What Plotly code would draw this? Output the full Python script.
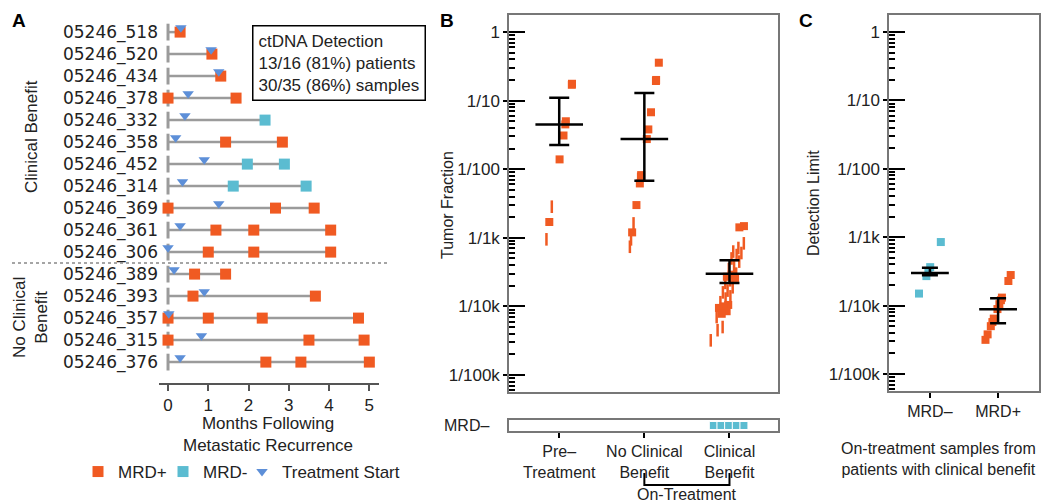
import plotly.graph_objects as go
import numpy as np


# ==========================
# DATA
# ==========================

patients = [
    "05246_518", "05246_520", "05246_434", "05246_378", "05246_332", "05246_358",
    "05246_452", "05246_314", "05246_369", "05246_361", "05246_306",
    "05246_389", "05246_393", "05246_357", "05246_315", "05246_376",
]

# months following metastatic recurrence
mrd_pos_times = [
    [0.30], [1.09], [1.31], [0.0, 1.69], [], [1.43, 2.84],
    [], [], [0.0, 2.67, 3.63], [1.19, 2.13, 4.04], [1.00, 2.13, 4.04],
    [0.66, 1.43], [0.62, 3.66], [0.0, 1.00, 2.34, 4.73], [0.0, 3.50, 4.87], [2.43, 3.30, 5.00],
]
mrd_neg_times = [
    [], [], [], [], [2.41], [],
    [1.97, 2.89], [1.62, 3.43], [], [], [],
    [], [], [], [], [],
]
treatment_start = [0.32, 1.07, 1.26, 0.50, 0.42, 0.19, 0.90, 0.36, 1.26, 0.30, 0.0,
                   0.15, 0.90, 0.02, 0.83, 0.30]
n_clinical_benefit = 11

# panel B : tumor fraction
b_groups = ["Pre–<br>Treatment", "No Clinical<br>Benefit", "Clinical<br>Benefit"]

pre_tf = [0.170, 0.176, 0.050, 0.045, 0.031, 0.0139, 0.0017]
pre_tf_faint = [0.00284, 0.00095]

ncb_tf = [0.357, 0.193, 0.200, 0.0676, 0.038, 0.0275, 0.0078, 0.0082, 0.0062, 0.0030, 0.0012]
ncb_tf_faint = [0.00162, 0.00095, 0.00074]

cb_tf = [0.00148, 0.00142, 0.00029, 0.00027, 0.00026, 0.000105, 0.000100, 0.000095,
         0.000085, 0.000078]
cb_tf_faint = [0.00083, 0.00071, 0.00063, 0.00060, 0.00056, 0.00050, 0.00045, 0.00040,
               0.00035, 0.00030, 0.00024, 0.00022, 0.00019, 0.00017, 0.00016, 0.00014,
               0.00013, 0.000115, 0.00007, 0.00005, 0.000045, 0.000032]

b_mean = [0.045, 0.0275, 0.00030]
b_upper = [0.110, 0.129, 0.00047]
b_lower = [0.0225, 0.0068, 0.00022]

# panel C : detection limit
c_groups = ["MRD–", "MRD+"]
mrd_neg_dl = [0.00085, 0.000365, 0.000316, 0.00027, 0.00015]
mrd_pos_dl = [0.000280, 0.000229, 0.000131, 0.000120, 0.000105, 0.0000890, 0.0000646,
              0.0000575, 0.0000501, 0.0000380, 0.0000316]
c_mean = [0.00030, 0.0000883]
c_upper = [0.000358, 0.000128]
c_lower = [0.000277, 0.0000552]

y_tickvals = [1, 0.1, 0.01, 0.001, 1e-4, 1e-5]
y_ticktext = ["1", "1/10", "1/100", "1/1k", "1/10k", "1/100k"]


# ==========================
# STYLE
# ==========================

# page body keeps an 8px margin, so the figure sits 8px in from the corner
PAD = 8
W, H = 1050 - PAD, 503 - PAD
ORANGE = "#F05A22"
CYAN = "#5BBCD1"
BLUE = "#5D8FD8"
GRAY = "#9B9B9B"
FONT = "Liberation Sans"


def px(x):
    return (x - PAD) / W


def py(y):
    return 1 - (y - PAD) / H


def spread(vals, center, width, wobble):
    lv = np.log10(np.array(vals))
    lo, hi = lv.min(), lv.max()
    norm = (lv - lo) / (hi - lo)
    order = np.argsort(np.argsort(lv))
    return center + width * (norm - 0.5) + wobble * ((order % 3) - 1)


fig = go.Figure()


# ==========================
# PANEL A
# ==========================

line_x, line_y, start_x, start_y = [], [], [], []
pos_x, pos_y, neg_x, neg_y = [], [], [], []
for i in range(len(patients)):
    last = max(mrd_pos_times[i] + mrd_neg_times[i])
    line_x += [0, last, None]
    line_y += [i, i, None]
    start_x.append(0)
    start_y.append(i)
    pos_x += mrd_pos_times[i]
    pos_y += [i] * len(mrd_pos_times[i])
    neg_x += mrd_neg_times[i]
    neg_y += [i] * len(mrd_neg_times[i])

fig.add_trace(go.Scatter(x=line_x, y=line_y, mode="lines",
                         line=dict(color=GRAY, width=2.5), showlegend=False,
                         hoverinfo="skip"))
fig.add_trace(go.Scatter(x=start_x, y=start_y, mode="markers",
                         marker=dict(symbol="line-ns", size=12,
                                     line=dict(color=GRAY, width=3)),
                         showlegend=False, hoverinfo="skip"))
fig.add_trace(go.Scatter(x=pos_x, y=pos_y, mode="markers", name="MRD+", legend="legend",
                         marker=dict(symbol="square", size=11, color=ORANGE)))
fig.add_trace(go.Scatter(x=neg_x, y=neg_y, mode="markers", name="MRD-", legend="legend2",
                         marker=dict(symbol="square", size=11, color=CYAN)))
fig.add_trace(go.Scatter(x=treatment_start,
                         y=[i - 0.2 for i in range(len(patients))],
                         mode="markers", name="Treatment Start", legend="legend3",
                         marker=dict(symbol="triangle-down", size=10, color=BLUE)))


# ==========================
# PANEL B
# ==========================

b_sets = [(pre_tf, pre_tf_faint, 0.30, 0.0), (ncb_tf, ncb_tf_faint, 0.34, 0.0),
          (cb_tf, cb_tf_faint, 0.34, 0.05)]
for k, (sq, faint, width, wob) in enumerate(b_sets):
    xs = spread(sq + faint, k, width, wob)
    fig.add_trace(go.Scatter(x=xs[len(sq):], y=faint, mode="markers",
                             xaxis="x2", yaxis="y2", showlegend=False,
                             marker=dict(symbol="line-ns", size=9,
                                         line=dict(color=ORANGE, width=2.5))))
    fig.add_trace(go.Scatter(x=xs[:len(sq)], y=sq, mode="markers",
                             xaxis="x2", yaxis="y2", showlegend=False,
                             marker=dict(symbol="square", size=8, color=ORANGE)))

fig.add_trace(go.Scatter(
    x=[0, 1, 2], y=b_mean, mode="markers", xaxis="x2", yaxis="y5", showlegend=False,
    marker=dict(symbol="line-ew", size=34, line=dict(color="black", width=2.5)),
    error_y=dict(type="data", symmetric=False,
                 array=[u - m for u, m in zip(b_upper, b_mean)],
                 arrayminus=[m - l for m, l in zip(b_mean, b_lower)],
                 color="black", thickness=2.5, width=10)))

# MRD- strip
strip_x = 2 + np.linspace(-0.19, 0.17, len(mrd_neg_dl))
fig.add_trace(go.Scatter(x=strip_x, y=[0.5] * len(mrd_neg_dl), mode="markers",
                         xaxis="x3", yaxis="y3", showlegend=False,
                         marker=dict(symbol="square", size=8, color=CYAN,
                                     line=dict(color="white", width=1))))


# ==========================
# PANEL C
# ==========================

fig.add_trace(go.Scatter(x=spread(mrd_neg_dl, 0, 0.32, 0), y=mrd_neg_dl, mode="markers",
                         xaxis="x4", yaxis="y4", showlegend=False,
                         marker=dict(symbol="square", size=8, color=CYAN)))
fig.add_trace(go.Scatter(x=spread(mrd_pos_dl, 1, 0.37, 0), y=mrd_pos_dl, mode="markers",
                         xaxis="x4", yaxis="y4", showlegend=False,
                         marker=dict(symbol="square", size=8, color=ORANGE)))
fig.add_trace(go.Scatter(
    x=[0, 1], y=c_mean, mode="markers", xaxis="x4", yaxis="y6", showlegend=False,
    marker=dict(symbol="line-ew", size=27, line=dict(color="black", width=2.5)),
    error_y=dict(type="data", symmetric=False,
                 array=[u - m for u, m in zip(c_upper, c_mean)],
                 arrayminus=[m - l for m, l in zip(c_mean, c_lower)],
                 color="black", thickness=2.5, width=8)))


# ==========================
# AXES
# ==========================

minor_vals = [d * 10.0 ** e for e in range(-6, 1) for d in range(2, 10)]
log_range = [-5.248, 0.248]
frame = dict(showline=True, mirror=True, linecolor="#777", linewidth=1.5,
             showgrid=False, zeroline=False)


def log_axis(domain, anchor):
    return dict(domain=domain, anchor=anchor, type="log", range=log_range,
                tickmode="array", tickvals=y_tickvals, ticktext=y_ticktext,
                ticks="outside", ticklen=4, tickwidth=2, tickcolor="black",
                tickfont=dict(size=17, color="#222"), **frame)


def inner_ticks(over, anchor):
    return dict(overlaying=over, anchor=anchor, type="log", range=log_range,
                tickmode="array", tickvals=y_tickvals, showticklabels=False,
                ticks="inside", ticklen=16, tickwidth=2, tickcolor="black",
                showline=False, showgrid=False, zeroline=False,
                minor=dict(ticks="inside", ticklen=6, tickwidth=1.5,
                           tickcolor="black", tickvals=minor_vals))


def legend_at(x):
    return dict(x=px(x), y=py(472), xanchor="left", yanchor="middle",
                font=dict(size=17), itemwidth=30, bgcolor="rgba(0,0,0,0)")


fig.update_layout(
    width=W, height=H,
    margin=dict(l=0, r=0, t=0, b=0, autoexpand=False),
    paper_bgcolor="white", plot_bgcolor="white",
    font=dict(family=FONT, size=16, color="#222"),
    legend=legend_at(78),
    legend2=legend_at(163),
    legend3=legend_at(242),

    xaxis=dict(domain=[px(159), px(379)], range=[-0.224, 5.24], anchor="y",
               showline=True, linecolor="#555", linewidth=2, ticks="outside",
               ticklen=6, tickwidth=2, tickcolor="#555", tickvals=[0, 1, 2, 3, 4, 5],
               tickfont=dict(size=17), showgrid=False, zeroline=False),
    yaxis=dict(domain=[py(383), py(20)], range=[15.95, -0.55], anchor="x",
               tickmode="array", tickvals=list(range(len(patients))), ticktext=patients,
               tickfont=dict(family="DejaVu Sans", size=17, color="#222"),
               ticks="", showline=False, showgrid=False, zeroline=False),

    xaxis2=dict(domain=[px(509), px(778)], range=[-0.59, 2.57], anchor="y2",
                showticklabels=False, ticks="", **frame),
    yaxis2=log_axis([py(392), py(15)], "x2"),
    yaxis5=inner_ticks("y2", "x2"),

    xaxis3=dict(domain=[px(509), px(778)], range=[-0.59, 2.57], anchor="y3",
                tickmode="array", tickvals=[0, 1, 2], ticktext=b_groups,
                ticks="outside", ticklen=5, tickwidth=2, tickcolor="black",
                tickfont=dict(size=16), **frame),
    yaxis3=dict(domain=[py(431), py(420)], range=[0, 1], anchor="x3",
                showticklabels=False, ticks="", **frame),

    xaxis4=dict(domain=[px(889), px(1039)], range=[-0.6, 1.6], anchor="y4",
                tickmode="array", tickvals=[0, 1], ticktext=c_groups,
                ticks="outside", ticklen=5, tickwidth=2, tickcolor="black",
                tickfont=dict(size=16), **frame),
    yaxis4=log_axis([py(391), py(15)], "x4"),
    yaxis6=inner_ticks("y4", "x4"),
)


# ==========================
# ANNOTATIONS / SHAPES
# ==========================

def note(text, x, y, size=17, color="#222", **kw):
    kw.setdefault("xanchor", "center")
    kw.setdefault("yanchor", "middle")
    fig.add_annotation(text=text, x=px(x), y=py(y), xref="paper", yref="paper",
                       showarrow=False, font=dict(size=size, color=color), **kw)


# panel letters hug the top edge of the figure
note("<b>A</b>", 10, PAD, size=19, color="black", xanchor="left", yanchor="top")
note("<b>B</b>", 438, PAD, size=19, color="black", xanchor="left", yanchor="top")
note("<b>C</b>", 797, PAD, size=19, color="black", xanchor="left", yanchor="top")

note("ctDNA Detection<br>13/16 (81%) patients<br>30/35 (86%) samples", 252, 25,
     xanchor="left", yanchor="top", align="left", bordercolor="black",
     borderwidth=1.5, borderpad=5, bgcolor="white")

note("Clinical Benefit", 31, 137, textangle=-90)
note("No Clinical<br>Benefit", 30, 318, textangle=-90)
note("Months Following<br>Metastatic Recurrence", 268, 434)

note("Tumor Fraction", 447, 205, size=16, textangle=-90)
note("MRD–", 491, 425, size=16, xanchor="right")
fig.add_annotation(text="On-Treatment", x=1.5, xref="x3", y=py(494), yref="paper",
                   xanchor="center", yanchor="middle",
                   showarrow=False, font=dict(size=16, color="#222"))

note("Detection Limit", 813, 203, size=16, textangle=-90)
note("On-treatment samples from<br>patients with clinical benefit", 938, 459, size=16)

fig.add_shape(type="line", xref="paper", yref="y", x0=px(12), x1=px(390),
              y0=n_clinical_benefit - 0.5, y1=n_clinical_benefit - 0.5,
              line=dict(color="#888", width=1.5, dash="dot"))
fig.add_shape(type="path", xref="x3", yref="paper",
              path=f"M 1,{py(473)} L 1,{py(485)} L 2,{py(485)} L 2,{py(473)}",
              line=dict(color="black", width=2))

fig.write_html("out.html")
